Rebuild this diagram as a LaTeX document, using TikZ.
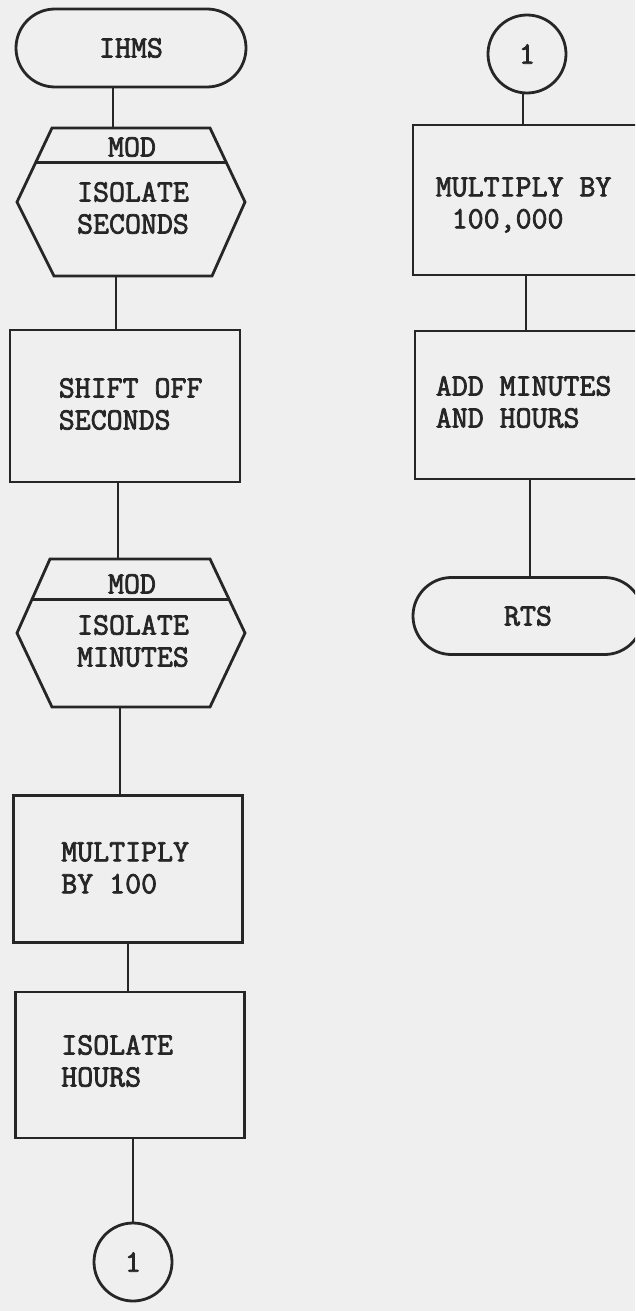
\documentclass[tikz,border=0pt]{standalone}
\usepackage{fontspec}
\setmainfont{Latin Modern Mono}[FakeBold=2.4]
\usetikzlibrary{shapes.misc,calc}
\definecolor{paper}{HTML}{EFEFEF}
\definecolor{ink}{HTML}{262626}
\begin{document}
\begin{tikzpicture}[x=1pt,y=-1pt,
  ln/.style={draw=ink,line width=2.8pt},
  txt/.style={font=\fontsize{31}{32}\selectfont, text=ink, align=left, inner sep=0pt},
  ctxt/.style={txt, align=center},
  procbox/.style={ln, rectangle, minimum width=229pt, minimum height=148pt},
  termbox/.style={ln, ctxt, rounded rectangle, minimum width=230pt, minimum height=78pt},
  conn/.style={ln, ctxt, circle, minimum size=78pt},
  hexframe/.style={rectangle, minimum width=228pt, minimum height=148pt, inner sep=0pt, outer sep=0pt},
  link/.style={draw=ink,line width=2.8pt}
]
\useasboundingbox (0,0) rectangle (635,1311);
\fill[paper] (0,0) rectangle (635,1311);
\clip (0,0) rectangle (635,1311);

% ---------- left column ----------
\node[termbox] (ihms) at (131,48) {IHMS};

\node[hexframe] (hex1) at (131,202) {};
\draw[ln] ($(hex1.north west)+(35,0)$) coordinate (h1tl) -- ($(hex1.north east)+(-35,0)$) coordinate (h1tr)
  -- (hex1.east) -- ($(hex1.south east)+(-33,0)$) -- ($(hex1.south west)+(37,0)$) -- (hex1.west) -- cycle;
\draw[ln] ($(h1tl)!0.47!(hex1.west)$) -- ($(h1tr)!0.47!(hex1.east)$);
\node[ctxt] (mod1) at ($(hex1.north)+(1,19)$) {MOD};
\node[ctxt] (iso1) at ($(hex1.center)+(2,6)$) {ISOLATE\\SECONDS};

\node[procbox, minimum width=230pt, minimum height=152pt] (shift) at (125,406) {};
\node[txt, anchor=west] (shiftt) at ($(shift.west)+(50,-2)$) {SHIFT OFF\\SECONDS};

\node[hexframe] (hex2) at (131,633) {};
\draw[ln] ($(hex2.north west)+(33,0)$) coordinate (h2tl) -- ($(hex2.north east)+(-35,0)$) coordinate (h2tr)
  -- (hex2.east) -- ($(hex2.south east)+(-35,0)$) -- ($(hex2.south west)+(35,0)$) -- (hex2.west) -- cycle;
\draw[ln] ($(h2tl)!0.55!(hex2.west)$) -- ($(h2tr)!0.55!(hex2.east)$);
\node[ctxt] (mod2) at ($(hex2.north)+(1,25)$) {MOD};
\node[ctxt] (iso2) at ($(hex2.center)+(2,8)$) {ISOLATE\\MINUTES};

\node[procbox, minimum height=147pt] (mul100) at (128,869) {};
\node[txt, anchor=west] (mul100t) at ($(mul100.west)+(49,-1)$) {MULTIPLY\\BY 100};
\node[procbox, minimum height=146pt] (hours) at (130,1065) {};
\node[txt, anchor=west] (hourst) at ($(hours.west)+(47,-4)$) {ISOLATE\\HOURS};
\node[conn] (c1a) at (133,1262) {1};

\draw[link] ([xshift=-18pt]ihms.south) -- ([xshift=-18pt]ihms.south |- hex1.north);
\draw[link] ([xshift=-15pt]hex1.south) -- ([xshift=-15pt]hex1.south |- shift.north);
\draw[link] ([xshift=-7pt]shift.south) -- ([xshift=-7pt]shift.south |- hex2.north);
\draw[link] ([xshift=-11pt]hex2.south) -- ([xshift=-11pt]hex2.south |- mul100.north);
\draw[link] (mul100.south) -- (mul100.south |- hours.north);
\draw[link] (hours.south -| c1a.north) -- (c1a.north);

% ---------- right column ----------
\node[conn] (c1b) at (527,54) {1};
\node[procbox, minimum width=230pt, minimum height=150pt] (mul5) at (528,200) {};
\node[txt, anchor=west] (mul5t) at ($(mul5.west)+(24,5)$) {MULTIPLY BY\\\ 100,000};
\node[procbox, minimum width=228pt, minimum height=148pt] (add) at (529,405) {};
\node[txt, anchor=west] (addt) at ($(add.west)+(22,-3)$) {ADD MINUTES\\AND HOURS};
\node[termbox, minimum width=230pt, minimum height=77pt] (rts) at (528,616) {RTS};

\draw[link] ([xshift=-4pt]c1b.south) -- ([xshift=-4pt]c1b.south |- mul5.north);
\draw[link] ([xshift=-2pt]mul5.south) -- ([xshift=-2pt]mul5.south |- add.north);
\draw[link] ([xshift=1pt]add.south) -- ([xshift=1pt]add.south |- rts.north);
\end{tikzpicture}
\end{document}
